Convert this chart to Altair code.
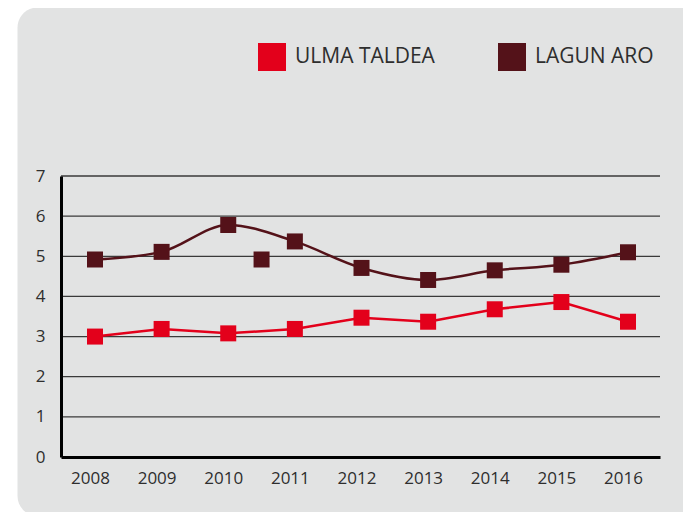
import altair as alt
import pandas as pd

years = [2008, 2009, 2010, 2011, 2012, 2013, 2014, 2015, 2016]
ulma_values = [3.00, 3.19, 3.08, 3.19, 3.47, 3.37, 3.68, 3.86, 3.37]
lagun_values = [4.92, 5.11, 5.78, 5.37, 4.71, 4.41, 4.65, 4.79, 5.10]
lagun_extra_year = [2010.5]
lagun_extra_value = [4.92]
series_names = ["ULMA TALDEA", "LAGUN ARO"]
series_colors = ["#e3001b", "#541219"]
y_ticks = [0, 1, 2, 3, 4, 5, 6, 7]

FONT = "Open Sans"

rows = []
for y, v in zip(years, ulma_values):
    rows.append({"year": y, "value": v, "series": series_names[0], "kind": "line"})
for y, v in zip(years, lagun_values):
    rows.append({"year": y, "value": v, "series": series_names[1], "kind": "line"})
for y, v in zip(lagun_extra_year, lagun_extra_value):
    rows.append({"year": y, "value": v, "series": series_names[1], "kind": "extra"})
df = pd.DataFrame(rows)
grid_df = pd.DataFrame({"value": y_ticks[1:]})

x_scale = alt.Scale(domain=[2007.49, 2016.48], nice=False, zero=False)
y_scale = alt.Scale(domain=[0, 7], nice=False)
color_scale = alt.Scale(domain=series_names, range=series_colors)

x_axis = alt.Axis(values=years, format="d", title=None, grid=False,
                  ticks=False, domainColor="#000000", domainWidth=3,
                  labelFont=FONT, labelFontSize=17, labelColor="#2e2e2e",
                  labelPadding=13, labelOffset=-5, zindex=1)
y_axis = alt.Axis(values=y_ticks, title=None, grid=False, ticks=False,
                  domainColor="#000000", domainWidth=3,
                  labelFont=FONT, labelFontSize=17, labelColor="#2e2e2e",
                  labelPadding=16, zindex=1)
legend = alt.Legend(title=None, orient="none", legendX=197, legendY=-133,
                    direction="horizontal", symbolType="square",
                    symbolSize=784, symbolStrokeWidth=0, symbolOpacity=1,
                    labelFont=FONT, labelFontSize=21, labelColor="#2e2e2e",
                    labelOffset=9, columnPadding=63)

x_enc = alt.X("year:Q", scale=x_scale, axis=x_axis)
y_enc = alt.Y("value:Q", scale=y_scale, axis=y_axis)
c_enc = alt.Color("series:N", scale=color_scale, sort=series_names, legend=legend)

bg = alt.Chart(alt.Data(values=[{}])).mark_rect(
    fill="#e2e3e3", cornerRadius=20
).encode(
    x=alt.value(-43.5), x2=alt.value(640), y=alt.value(-168.5), y2=alt.value(340)
)

grid = alt.Chart(grid_df).mark_rule(color="#3a3a3a", strokeWidth=1.3).encode(
    y=y_enc,
    x=alt.value(0), x2=alt.value(599)
)

ulma_line = alt.Chart(df).transform_filter(
    (alt.datum.series == series_names[0]) & (alt.datum.kind == "line")
).mark_line(strokeWidth=2.5).encode(x=x_enc, y=y_enc, color=c_enc)

lagun_line = alt.Chart(df).transform_filter(
    (alt.datum.series == series_names[1]) & (alt.datum.kind == "line")
).mark_line(strokeWidth=2.5, interpolate="monotone").encode(x=x_enc, y=y_enc, color=c_enc)

points = alt.Chart(df).mark_square(size=256, opacity=1).encode(
    x=x_enc, y=y_enc, color=c_enc
)

chart = alt.layer(bg, grid, ulma_line, lagun_line, points).properties(
    width=599, height=281,
    autosize=alt.AutoSizeParams(type="none"),
    padding={"left": 53, "top": 168, "right": 23, "bottom": 55},
    background="#ffffff"
).configure_view(stroke=None)

chart.save("out.html", embed_options={"renderer": "svg", "actions": False})
